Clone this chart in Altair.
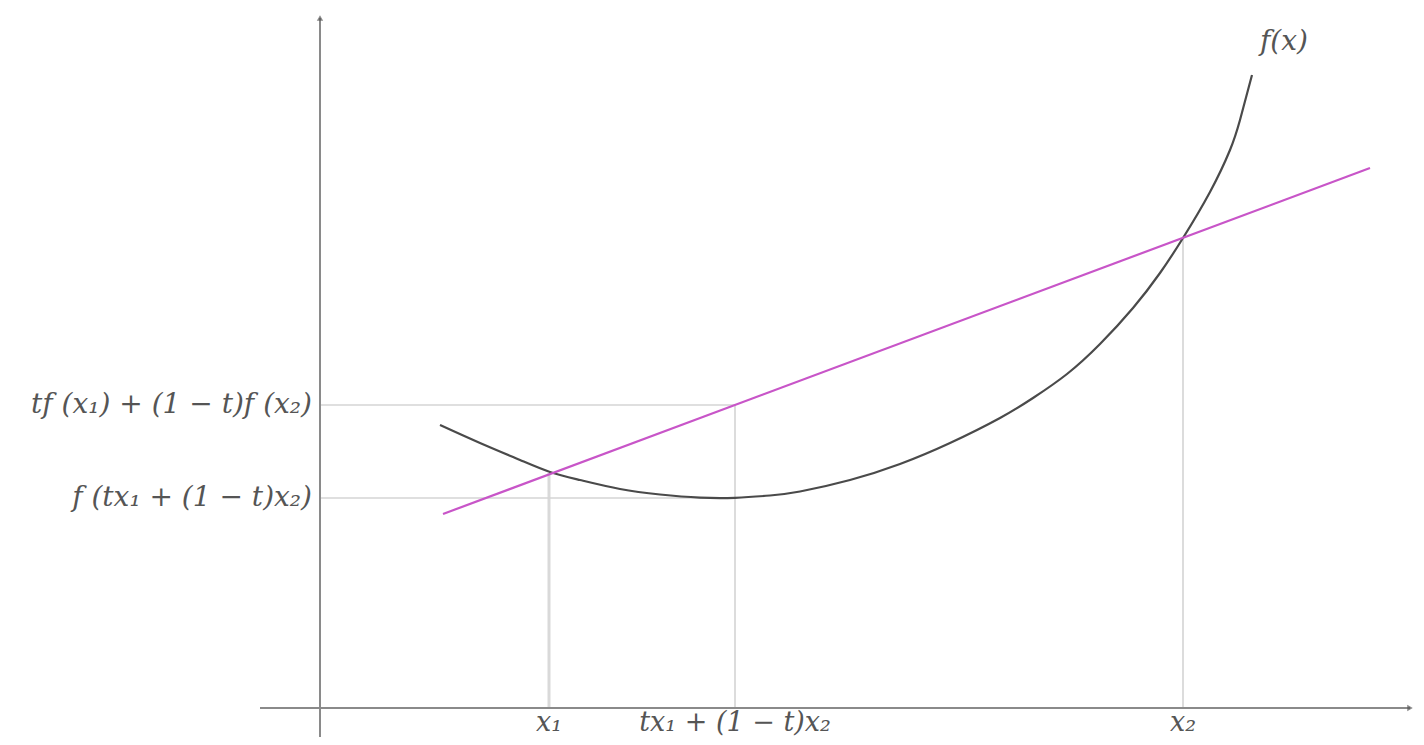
import altair as alt
import pandas as pd

# Coordinates in diagram units (origin where the two axes cross)
curve_x = [1.20, 1.60, 2.00, 2.30, 2.60, 3.00, 3.40, 3.80, 4.15, 4.50, 4.80, 5.30, 5.80, 6.30, 6.80,
           7.13, 7.47, 7.80, 8.13, 8.40, 8.63, 8.90, 9.10, 9.20, 9.32]
curve_y = [2.83, 2.65, 2.48, 2.36, 2.28, 2.19, 2.135, 2.104, 2.102, 2.125, 2.165, 2.28, 2.44, 2.65, 2.90,
           3.10, 3.34, 3.64, 4.00, 4.35, 4.70, 5.16, 5.58, 5.88, 6.33]

chord_x = [1.23, 10.50]
chord_y = [1.94, 5.40]

x1, xm, x2 = 2.29, 4.15, 8.63
fx1, fxm, fx2, chord_m = 2.35, 2.10, 4.70, 3.03

axis_x_range = [-0.60, 10.90]
axis_y_range = [-0.29, 6.90]

tick_labels = ["x₁", "tx₁ + (1 − t)x₂", "x₂"]
tick_pos = [x1, xm, x2]
left_labels = ["tf (x₁) + (1 − t)f (x₂)", "f (tx₁ + (1 − t)x₂)"]
left_pos = [chord_m, fxm]

X = alt.Scale(domain=[-3.12, 10.96], nice=False, zero=False)
Y = alt.Scale(domain=[-0.29, 7.00], nice=False, zero=False)
FONT = "DejaVu Serif"
FS = 28

def seg(xa, ya, xb, yb, name):
    return pd.DataFrame({"x": [xa], "y": [ya], "x2": [xb], "y2": [yb], "k": [name]})

guides = pd.concat([
    seg(x1, 0, x1, fx1, "g1"),
    seg(xm, 0, xm, chord_m, "g2"),
    seg(x2, 0, x2, fx2, "g3"),
    seg(0, chord_m, xm, chord_m, "g4"),
    seg(0, fxm, xm, fxm, "g5"),
])

base_enc = dict(
    x=alt.X("x:Q", scale=X, axis=None),
    y=alt.Y("y:Q", scale=Y, axis=None),
    x2="x2:Q", y2="y2:Q",
)

guide_thick = alt.Chart(guides[guides.k == "g1"]).mark_rule(color="#d9d9d9", strokeWidth=3).encode(**base_enc)
guide_thin = alt.Chart(guides[guides.k != "g1"]).mark_rule(color="#d4d4d4", strokeWidth=1.6).encode(**base_enc)

axes = pd.concat([
    seg(axis_x_range[0], 0, axis_x_range[1], 0, "xa"),
    seg(0, axis_y_range[0], 0, axis_y_range[1], "ya"),
])
axis_rules = alt.Chart(axes).mark_rule(color="#8a8a8a", strokeWidth=2).encode(**base_enc)

arrows = pd.DataFrame({"x": [0, axis_x_range[1]], "y": [axis_y_range[1], 0], "a": [0, 90]})
arrow_pts = alt.Chart(arrows).mark_point(shape="triangle-up", filled=True, size=40, color="#555555").encode(
    x=alt.X("x:Q", scale=X, axis=None), y=alt.Y("y:Q", scale=Y, axis=None), angle=alt.Angle("a:Q", scale=None))

curve_df = pd.DataFrame({"x": curve_x, "y": curve_y, "o": range(len(curve_x))})
curve = alt.Chart(curve_df).mark_line(color="#4a4a4a", strokeWidth=2.2, interpolate="natural").encode(
    x=alt.X("x:Q", scale=X, axis=None), y=alt.Y("y:Q", scale=Y, axis=None), order="o:O")

chord_df = pd.DataFrame({"x": chord_x, "y": chord_y})
chord = alt.Chart(chord_df).mark_line(color="#c855c8", strokeWidth=2.2).encode(
    x=alt.X("x:Q", scale=X, axis=None), y=alt.Y("y:Q", scale=Y, axis=None))

tick_df = pd.DataFrame({"x": tick_pos, "y": [-0.145] * 3, "t": tick_labels})
tick_text = alt.Chart(tick_df).mark_text(font=FONT, fontStyle="italic", fontSize=27, color="#555555",
                                         baseline="middle", align="center").encode(
    x=alt.X("x:Q", scale=X, axis=None), y=alt.Y("y:Q", scale=Y, axis=None), text="t:N")

left_df = pd.DataFrame({"x": [-0.08] * 2, "y": left_pos, "t": left_labels})
left_text = alt.Chart(left_df).mark_text(font=FONT, fontStyle="italic", fontSize=FS, color="#555555",
                                         baseline="middle", align="right").encode(
    x=alt.X("x:Q", scale=X, axis=None), y=alt.Y("y:Q", scale=Y, axis=None), text="t:N")

fx_df = pd.DataFrame({"x": [9.64], "y": [6.66], "t": ["f(x)"]})
fx_text = alt.Chart(fx_df).mark_text(font=FONT, fontStyle="italic", fontSize=FS, color="#555555",
                                     baseline="middle", align="center").encode(
    x=alt.X("x:Q", scale=X, axis=None), y=alt.Y("y:Q", scale=Y, axis=None), text="t:N")

chart = alt.layer(guide_thick, guide_thin, axis_rules, arrow_pts, curve, chord,
                  tick_text, left_text, fx_text).properties(
    width=1408, height=729, padding=0,
    autosize=alt.AutoSizeParams(type="none"),
).configure_view(strokeWidth=0)

chart.save("out.html", embed_options={"renderer": "svg", "actions": False})
